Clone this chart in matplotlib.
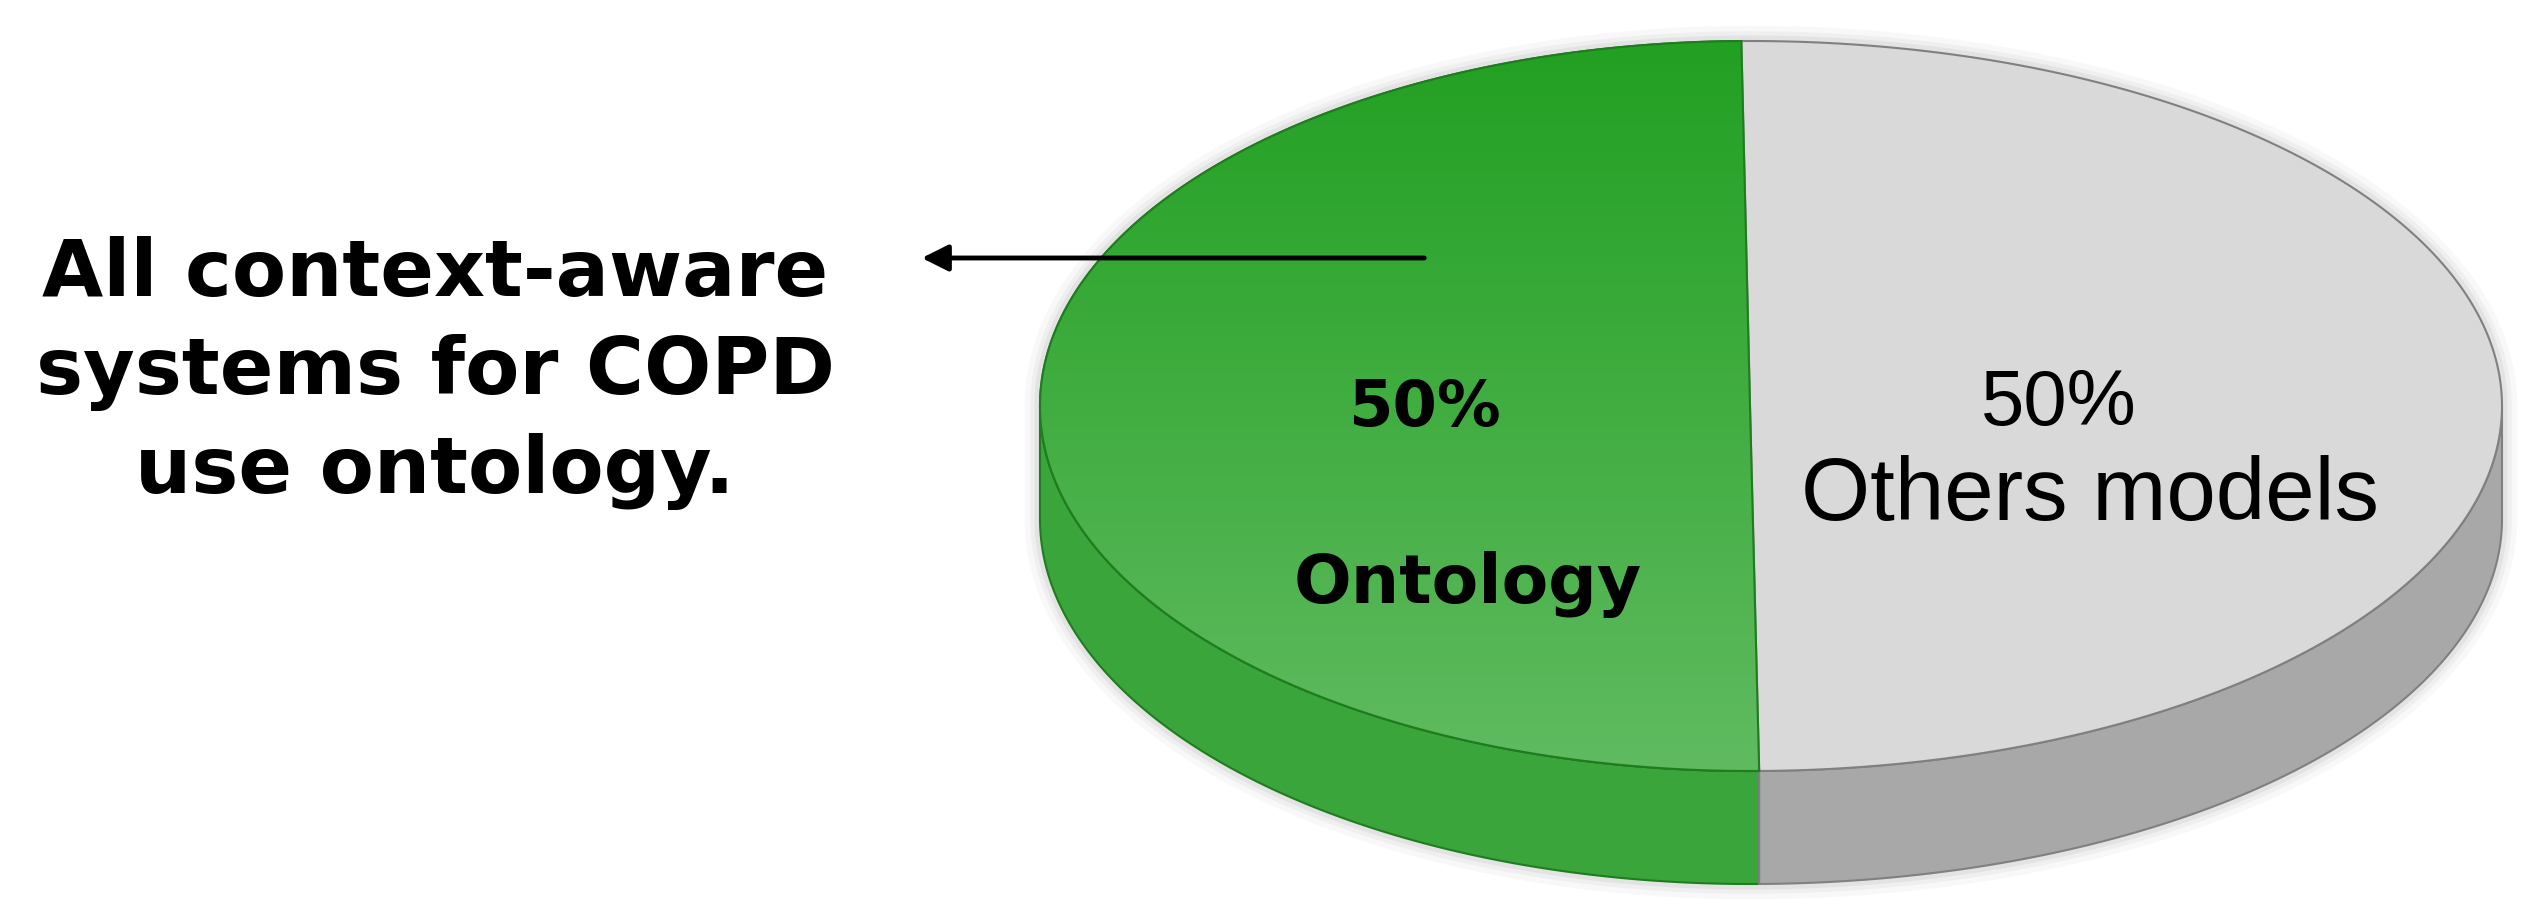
import numpy as np
import matplotlib.pyplot as plt
from matplotlib.patches import Polygon
from matplotlib.colors import LinearSegmentedColormap

# data
labels = ['Ontology', 'Others models']
shares = [50, 50]
pct_text = ['50%', '50%']
note = 'All context-aware\nsystems for COPD\nuse ontology.'

W, H = 2529, 914
fig = plt.figure(figsize=(W / 100, H / 100), dpi=100)
ax = fig.add_axes([0, 0, 1, 1])
ax.set_xlim(0, W)
ax.set_ylim(H, 0)
ax.axis('off')

# pie geometry (pixel units), left/right radii differ a bit for the perspective look
cx, cy, ry, depth = 1750, 406, 365, 113
rx_left, rx_right = 710, 752
start = 90.7

top_cols = [('#22a022', '#60bb60'), ('#d9d9d9', '#d9d9d9')]
side_cols = ['#3aa53a', '#a8a8a8']
edge_cols = ['#1f7d1f', '#808080']


def arc(a, b, dz=0, n=200):
    t = np.radians(np.linspace(a, b, n))
    c = np.cos(t)
    r = np.where(c < 0, rx_left, rx_right)
    return np.column_stack([cx + r * c, cy - ry * np.sin(t) + dz])


angles = start + np.concatenate([[0], np.cumsum(shares)]) / sum(shares) * 360

# soft shadow round the whole disc
outline = np.vstack([arc(0, 180), arc(180, 360, depth)])
for lw, al in [(22, 0.04), (14, 0.06), (8, 0.08)]:
    ax.add_patch(Polygon(outline, closed=True, fc='none', ec='#606060', lw=lw, alpha=al, zorder=0.5))

# sides first (front half only: 180..360 deg)
for i in range(len(shares)):
    a, b = angles[i], angles[i + 1]
    for lo, hi in [(180, 360), (540, 720)]:
        s, e = max(a, lo), min(b, hi)
        if e <= s:
            continue
        pts = np.vstack([arc(s, e), arc(s, e, depth)[::-1]])
        ax.add_patch(Polygon(pts, closed=True, fc=side_cols[i], ec=edge_cols[i], lw=1.5))

# top faces
for i in range(len(shares)):
    a, b = angles[i], angles[i + 1]
    pts = np.vstack([[cx, cy], arc(a, b)])
    poly = Polygon(pts, closed=True, fc=top_cols[i][0], ec=edge_cols[i], lw=1.5)
    ax.add_patch(poly)
    if top_cols[i][0] != top_cols[i][1]:
        cmap = LinearSegmentedColormap.from_list('g', list(top_cols[i]))
        grad = np.linspace(0, 1, 256).reshape(-1, 1)
        im = ax.imshow(grad, cmap=cmap, aspect='auto', origin='upper',
                       extent=[cx - rx_left, cx + rx_right, cy + ry, cy - ry], zorder=1.5)
        im.set_clip_path(poly)
        ax.add_patch(Polygon(pts, closed=True, fc='none', ec=edge_cols[i], lw=1.5, zorder=2))

# slice labels
ax.text(1424, 408, pct_text[0], ha='center', va='center', fontsize=46,
        fontweight='bold', family='DejaVu Sans', zorder=3)
ax.text(1468, 584, labels[0], ha='center', va='center', fontsize=49,
        fontweight='bold', family='DejaVu Sans', zorder=3)
ax.text(2059, 404, pct_text[1], ha='center', va='center', fontsize=56,
        family='Liberation Sans', zorder=3)
ax.text(2090, 497, labels[1], ha='center', va='center', fontsize=64,
        family='Liberation Sans', zorder=3)

# note and arrow
ax.text(435, 373, note, ha='center', va='center', fontsize=57, fontweight='bold',
        family='DejaVu Sans', linespacing=1.36)
ax.annotate('', xy=(919, 258), xytext=(1427, 258), zorder=4,
            arrowprops=dict(arrowstyle='-|>', lw=3.5, color='black', mutation_scale=40))

fig.savefig('out.png', dpi=100)
